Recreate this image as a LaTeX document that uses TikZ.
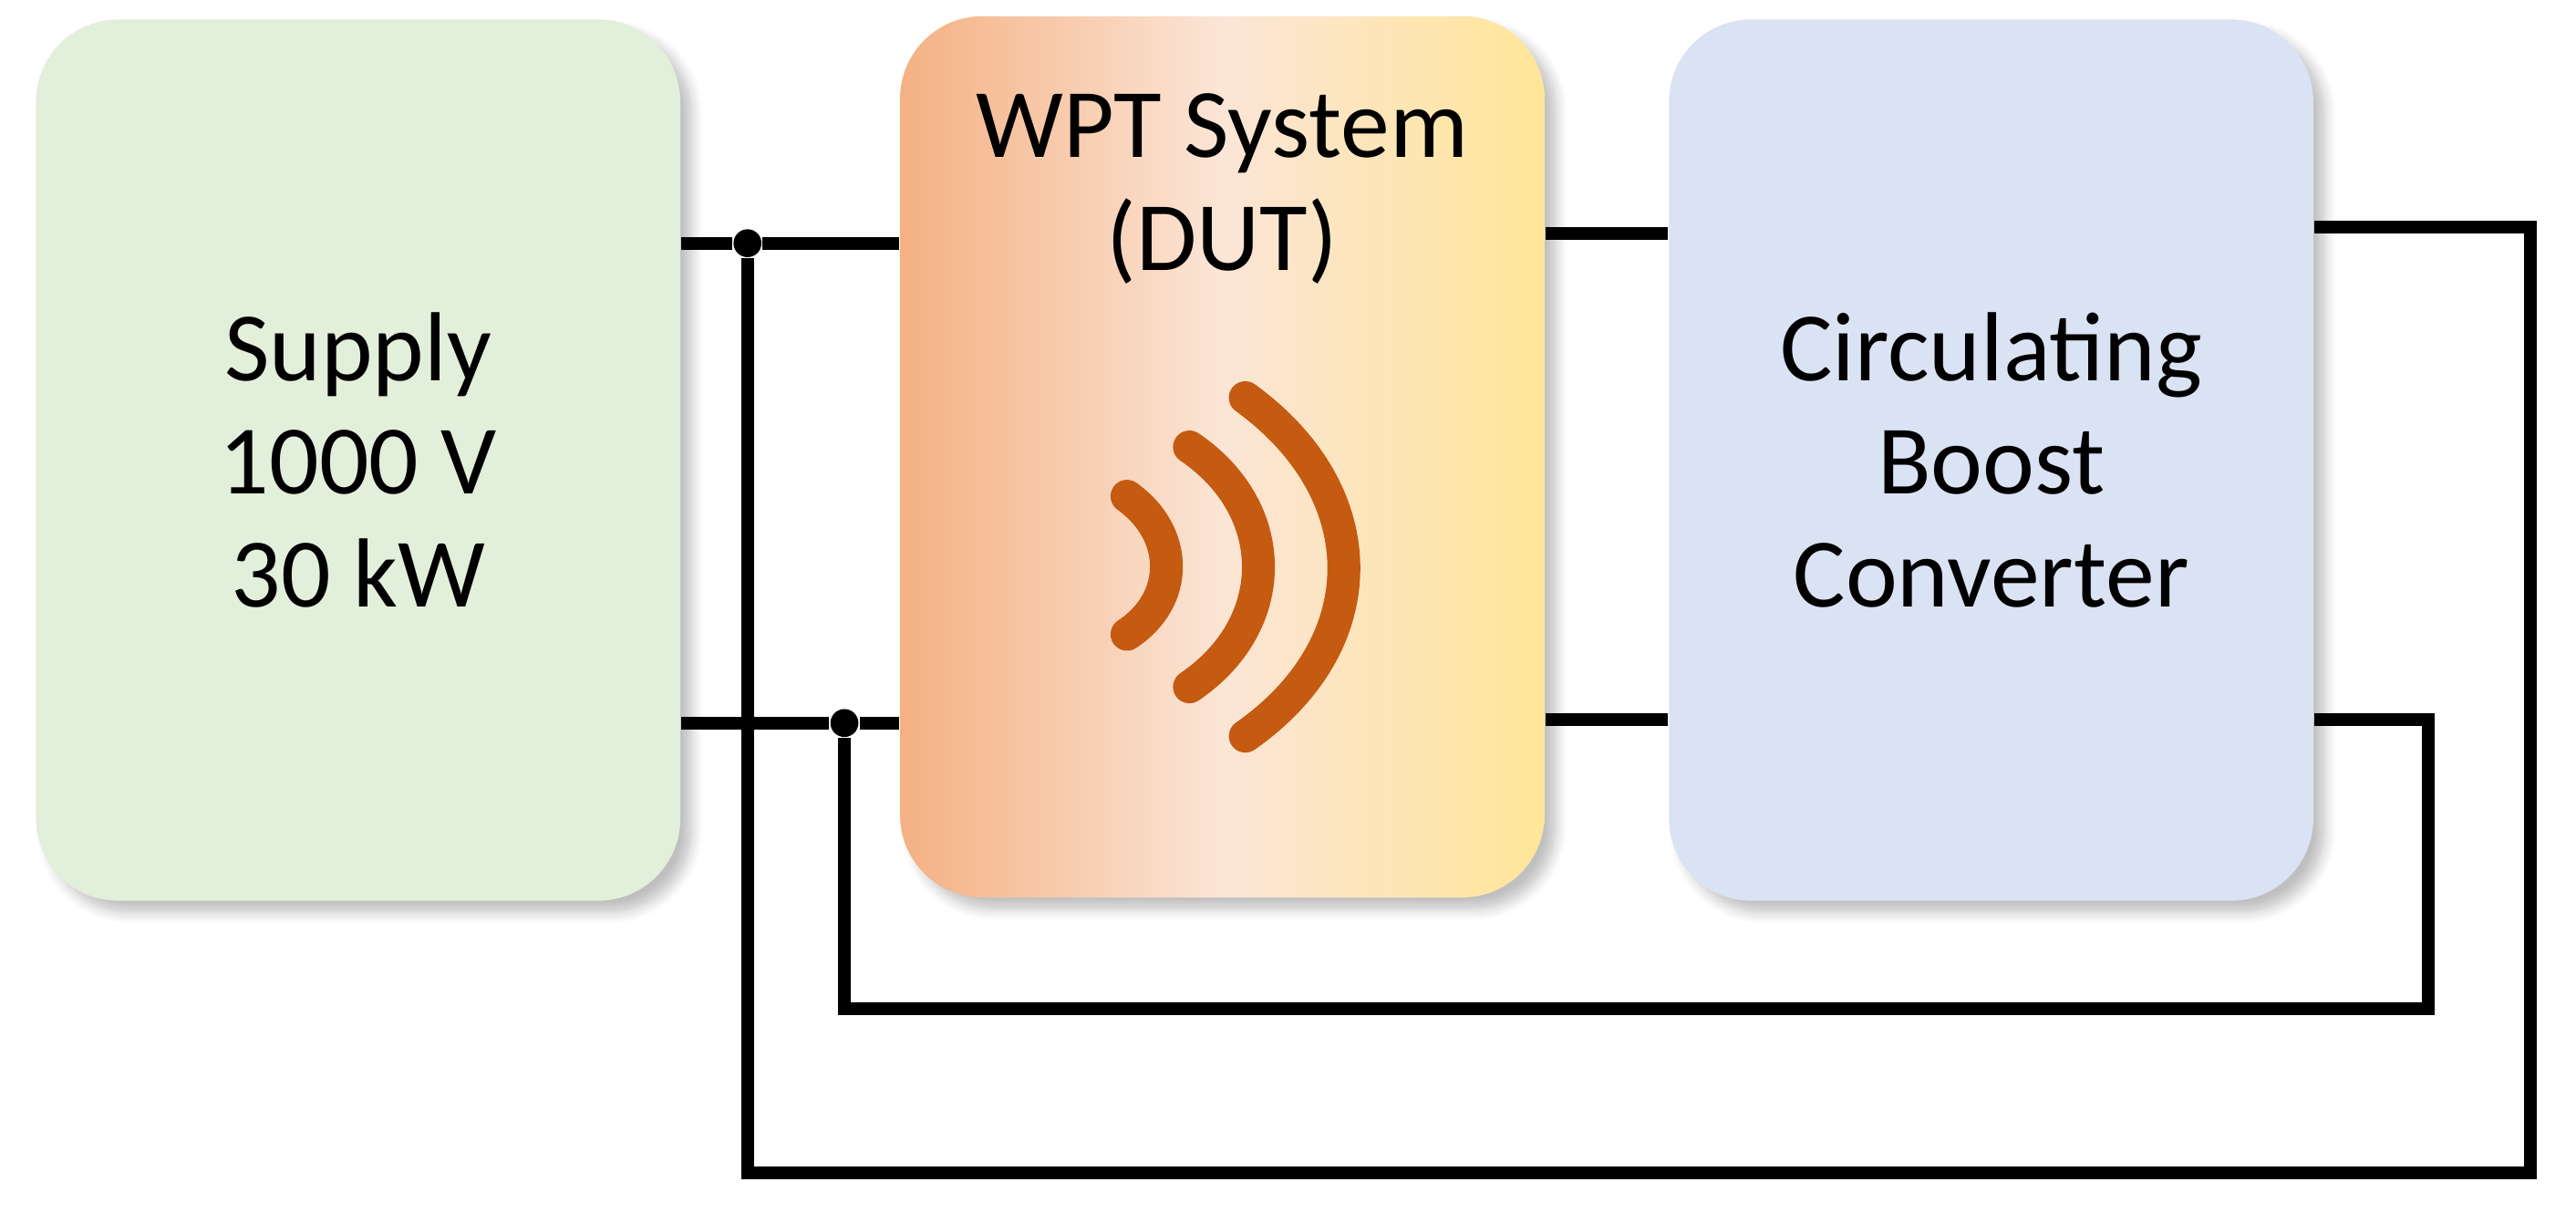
\documentclass[tikz,border=0pt]{standalone}
\usepackage{fontspec}
\setmainfont{Carlito}
\usetikzlibrary{shadows.blur}
\definecolor{sg}{HTML}{E2EFDA}
\definecolor{cb}{HTML}{DAE3F3}
\definecolor{wo}{HTML}{F4B183}
\definecolor{wm}{HTML}{FBE5D6}
\definecolor{wy}{HTML}{FFE699}
\definecolor{wave}{HTML}{C55A11}
\begin{document}
\begin{tikzpicture}[x=0.01cm,y=-0.01cm,
 blk/.style={rounded corners=0.5cm,minimum width=3.92cm,minimum height=5.36cm,draw=none,blur shadow={shadow blur steps=6,shadow xshift=2pt,shadow yshift=-2pt,shadow opacity=25},align=center,font=\fontsize{17pt}{19.5pt}\selectfont},
 wire/.style={line width=2.2pt},
 dot/.style={circle,fill=black,inner sep=0pt,minimum size=0.17cm}]
\useasboundingbox (0,0) rectangle (1568,738);
\node[blk,fill=sg] (sup) at (218,280) {Supply\\1000 V\\30 kW};
\node[blk,left color=wo,right color=wy,middle color=wm] (wpt) at (744,278) {};
\node[font=\fontsize{17pt}{19.5pt}\selectfont,align=center] (wt) at (744,115) {WPT System\\(DUT)};
\node[blk,fill=cb] (cbc) at (1212,280) {Circulating\\Boost\\Converter};
\draw[wave,line width=0.2cm,line cap=round] (686,302) .. controls (718,325) and (718,365) .. (686,386);
\draw[wave,line width=0.2cm,line cap=round] (724,272) .. controls (780,310) and (780,380) .. (724,418);
\draw[wave,line width=0.2cm,line cap=round] (758,242) .. controls (838,300) and (838,392) .. (758,448);
\node[dot] (d1) at (455,148) {};
\node[dot] (d2) at (514,440) {};
\coordinate (c1) at (1540,138);
\coordinate (c2) at (1540,714);
\coordinate (c3) at (455,714);
\coordinate (c4) at (1478,438);
\coordinate (c5) at (1478,614);
\coordinate (c6) at (514,614);
\draw[wire] (sup.east|-d1) -- (d1) -- (wpt.west|-d1);
\draw[wire] (sup.east|-d2) -- (d2) -- (wpt.west|-d2);
\draw[wire] (wpt.east|-0,142) -- (cbc.west|-0,142);
\draw[wire] (wpt.east|-0,438) -- (cbc.west|-0,438);
\draw[wire] (cbc.east|-c1) -- (c1) -- (c2) -- (c3) -- (d1);
\draw[wire] (cbc.east|-c4) -- (c4) -- (c5) -- (c6) -- (d2);
\end{tikzpicture}
\end{document}
